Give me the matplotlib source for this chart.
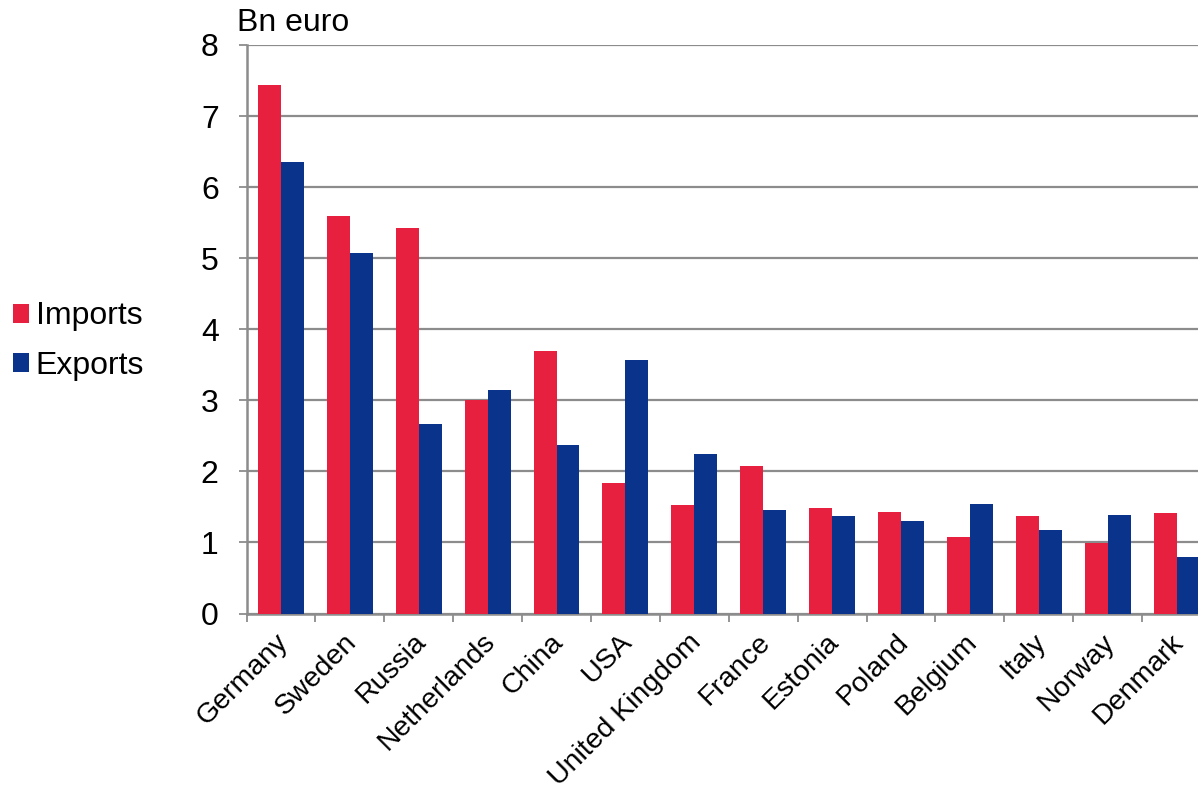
import matplotlib
matplotlib.use("Agg")
import matplotlib.pyplot as plt
import matplotlib.transforms as mtransforms
from matplotlib.patches import Patch
import numpy as np

countries = ["Germany", "Sweden", "Russia", "Netherlands", "China", "USA",
             "United Kingdom", "France", "Estonia", "Poland", "Belgium",
             "Italy", "Norway", "Denmark"]
imports = [7.44, 5.60, 5.42, 3.00, 3.70, 1.84, 1.53, 2.07, 1.49, 1.43, 1.08, 1.37, 0.99, 1.42]
exports = [6.35, 5.08, 2.67, 3.14, 2.37, 3.57, 2.25, 1.45, 1.37, 1.30, 1.54, 1.18, 1.39, 0.80]
y_ticks = [0, 1, 2, 3, 4, 5, 6, 7, 8]
series_names = ["Imports", "Exports"]
unit_label = "Bn euro"

RED = "#E72040"
BLUE = "#0A338C"
GRID = "#8C8C8C"

plt.rcParams["font.family"] = ["Liberation Sans", "DejaVu Sans"]

fig = plt.figure(figsize=(11.98, 7.95), dpi=100)
W, H = 1198, 795
left, right, top, bottom = 246.5, 1211, 45, 613.5
ax = fig.add_axes([left / W, (H - bottom) / H, (right - left) / W, (bottom - top) / H])

x = np.arange(len(countries))
bw = 1 / 3
ax.bar(x - bw / 2, imports, width=bw, color=RED, zorder=3, label=series_names[0])
ax.bar(x + bw / 2, exports, width=bw, color=BLUE, zorder=3, label=series_names[1])

ax.set_xlim(-0.5, len(countries) - 0.5)
ax.set_ylim(0, 8)
ax.set_yticks(y_ticks)
ax.set_yticklabels([str(v) for v in y_ticks], fontsize=23)
ax.yaxis.grid(True, color=GRID, linewidth=1.6, zorder=0)
ax.set_axisbelow(True)

ax.set_xticks(x)
ax.set_xticklabels(countries, rotation=45, ha="right", rotation_mode="anchor", fontsize=20.5)
ax.tick_params(axis="x", which="major", length=0, pad=11)
shift = mtransforms.ScaledTranslation(-0.06, 0, fig.dpi_scale_trans)
for lab in ax.get_xticklabels():
    lab.set_transform(lab.get_transform() + shift)
ax.set_xticks(np.arange(-0.5, len(countries), 1), minor=True)
ax.tick_params(axis="x", which="minor", length=6, width=1.3, color=GRID, direction="out")
ax.tick_params(axis="y", length=6, width=1.3, color=GRID, pad=14)

for s in ["top", "right"]:
    ax.spines[s].set_visible(False)
for s in ["left", "bottom"]:
    ax.spines[s].set_color(GRID)
    ax.spines[s].set_linewidth(1.8)

fig.text(237 / W, (H - 31) / H, unit_label, fontsize=23, ha="left", va="baseline")

handles = [Patch(facecolor=RED, label=series_names[0]), Patch(facecolor=BLUE, label=series_names[1])]
fig.legend(handles=handles, loc="center left", bbox_to_anchor=(12.5 / W, (H - 341) / H),
           frameon=False, fontsize=23, handlelength=0.53, handleheight=0.53,
           handletextpad=0.2, labelspacing=0.6, borderaxespad=0, borderpad=0)

fig.savefig("out.png", dpi=100)
